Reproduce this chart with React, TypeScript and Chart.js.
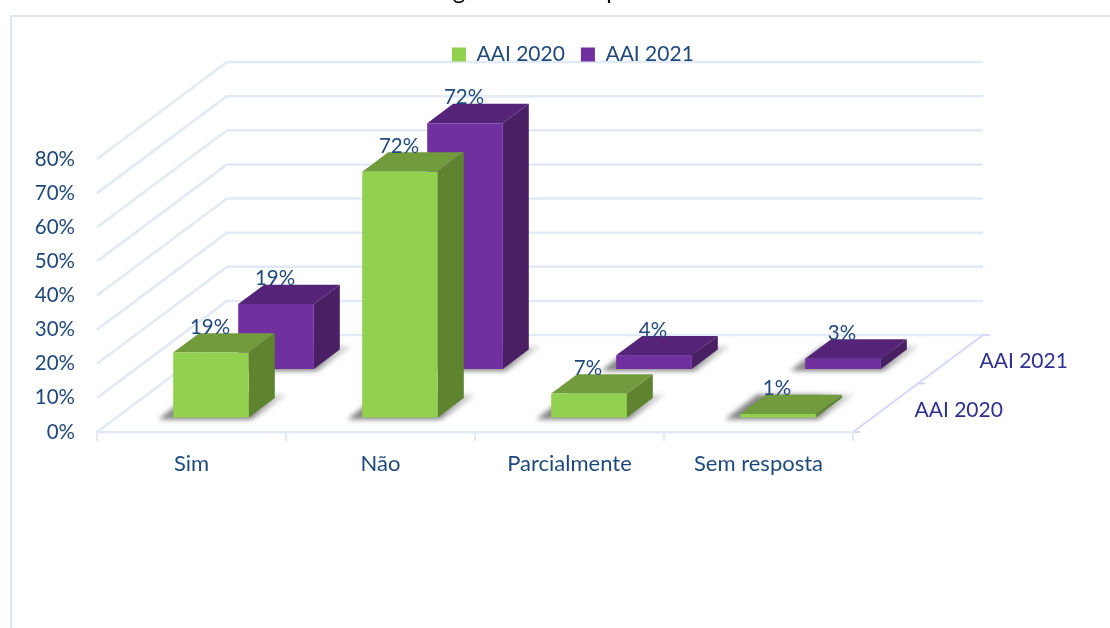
import React, { useEffect, useRef } from "react";
import { Chart, registerables } from "chart.js";

Chart.register(...registerables);

const categories = ["Sim", "Não", "Parcialmente", "Sem resposta"];
const seriesNames = ["AAI 2020", "AAI 2021"];
const values2020 = [19, 72, 7, 1];
const values2021 = [19, 72, 4, 3];
const yTicks = [0, 10, 20, 30, 40, 50, 60, 70, 80];
// The title is cropped off by the top of the picture: only these two descenders remain.
const titleFragments = ["g", "p"];

const FONT = "Lato, Carlito, sans-serif";
const TEXT = "#1F497D";
const DEPTH_TEXT = "#2E3192";
const GRID = "#E2EAF6";
const DEPTH_LINE = "#D6D8F7";
const FRAME = "#DCE6F3";

// oblique projection of the depth axis
const DEPTH_X = 130;
const DEPTH_Y = 97;
const BAR_DX = DEPTH_X * 0.2;
const BAR_DY = DEPTH_Y * 0.2;
const shift = (i: number) => ({
  x: DEPTH_X * (0.15 + i * 0.5),
  y: DEPTH_Y * (0.15 + i * 0.5),
});

const palettes = [
  { front: "#92D050", top: "#719B3C", side: "#5E8430" },
  { front: "#7030A0", top: "#552479", side: "#4A2065" },
];

const poly = (ctx: CanvasRenderingContext2D, pts: number[][], fill: any) => {
  ctx.beginPath();
  pts.forEach(([x, y], i) => (i ? ctx.lineTo(x, y) : ctx.moveTo(x, y)));
  ctx.closePath();
  ctx.fillStyle = fill;
  ctx.fill();
};

const scene = {
  id: "scene",
  beforeDraw(chart: any) {
    const { ctx, scales } = chart;
    const { x: xs, y: ys } = scales;
    const left = xs.left;
    const right = xs.right;
    ctx.save();
    ctx.fillStyle = "#fff";
    ctx.fillRect(0, 0, chart.width, chart.height);

    // outer frame of the chart object
    ctx.strokeStyle = FRAME;
    ctx.lineWidth = 2;
    ctx.beginPath();
    ctx.moveTo(11, chart.height);
    ctx.lineTo(11, 16);
    ctx.lineTo(chart.width, 16);
    ctx.stroke();

    // cropped title
    ctx.fillStyle = "#000";
    ctx.font = `24px ${FONT}`;
    ctx.textAlign = "center";
    ctx.textBaseline = "alphabetic";
    ctx.fillText(titleFragments[0], 459, -1);
    ctx.fillText(titleFragments[1], 613, -1);

    // walls
    ctx.strokeStyle = GRID;
    ctx.lineWidth = 2.5;
    ctx.lineJoin = "round";
    yTicks.forEach((v) => {
      const y = ys.getPixelForValue(v);
      ctx.beginPath();
      ctx.moveTo(left, y);
      ctx.lineTo(left + DEPTH_X, y - DEPTH_Y);
      ctx.lineTo(right + DEPTH_X, y - DEPTH_Y);
      ctx.stroke();
    });

    // depth axis on the floor
    const y0 = ys.getPixelForValue(0);
    ctx.strokeStyle = DEPTH_LINE;
    ctx.lineWidth = 2;
    ctx.beginPath();
    ctx.moveTo(right, y0);
    ctx.lineTo(right + DEPTH_X, y0 - DEPTH_Y);
    [0, 0.5, 1].forEach((f) => {
      const px = right + DEPTH_X * f;
      const py = y0 - DEPTH_Y * f;
      ctx.moveTo(px, py);
      ctx.lineTo(px + 7, py);
    });
    ctx.stroke();

    ctx.fillStyle = DEPTH_TEXT;
    ctx.font = `21px ${FONT}`;
    ctx.textAlign = "left";
    ctx.textBaseline = "middle";
    seriesNames.forEach((name, i) => {
      const f = 0.25 + i * 0.5;
      ctx.fillText(name, right + DEPTH_X * f + 29, y0 - DEPTH_Y * f + 2);
    });
    ctx.restore();
  },
  beforeDatasetDraw(chart: any, args: any) {
    const { ctx } = chart;
    const i = args.index;
    const pal = palettes[i];
    const s = shift(i);
    ctx.save();
    args.meta.data.forEach((el: any) => {
      const p = el.getProps(["x", "y", "base", "width"], true);
      const x0 = p.x - p.width / 2 + s.x;
      const x1 = p.x + p.width / 2 + s.x;
      const top = p.y - s.y;
      const base = p.base - s.y;

      // soft floor shadow
      ctx.save();
      ctx.filter = "blur(2.5px)";
      const g = ctx.createLinearGradient(x1, 0, x1 + 39, 0);
      g.addColorStop(0, "rgba(80,80,80,0.7)");
      g.addColorStop(1, "rgba(170,170,170,0.3)");
      poly(
        ctx,
        [
          [x0 - 15, base + 2],
          [x1 + 3, base + 2],
          [x1 + 39, base - 23],
          [x0 + 17, base - 23],
        ],
        g
      );
      ctx.restore();

      poly(ctx, [[x1, top], [x1 + BAR_DX, top - BAR_DY], [x1 + BAR_DX, base - BAR_DY], [x1, base]], pal.side);
      poly(ctx, [[x0, top], [x0 + BAR_DX, top - BAR_DY], [x1 + BAR_DX, top - BAR_DY], [x1, top]], pal.top);
      poly(ctx, [[x0, top], [x1, top], [x1, base], [x0, base]], pal.front);
    });
    ctx.restore();
    return false;
  },
  afterDatasetsDraw(chart: any) {
    const { ctx } = chart;
    ctx.save();
    ctx.fillStyle = TEXT;
    ctx.font = `20.5px ${FONT}`;
    ctx.textAlign = "center";
    ctx.textBaseline = "middle";
    [1, 0].forEach((i) => {
      const s = shift(i);
      chart.getDatasetMeta(i).data.forEach((el: any, k: number) => {
        const p = el.getProps(["x", "y"], true);
        const v = chart.data.datasets[i].data[k];
        ctx.fillText(`${v}%`, p.x + s.x - 1, p.y - s.y - BAR_DY - 6);
      });
    });
    ctx.restore();
  },
  afterLayout(chart: any) {
    // The legend floats over the back wall rather than taking a row of its own.
    const lg = chart.legend;
    lg.left = 436;
    lg.right = 1100;
    lg.top = 28;
    lg.bottom = 84;
  },
};

export default function App() {
  const ref = useRef<HTMLCanvasElement | null>(null);
  useEffect(() => {
    const chart = new Chart(ref.current as HTMLCanvasElement, {
      type: "bar",
      data: {
        labels: categories,
        datasets: [
          { label: seriesNames[0], data: values2020, backgroundColor: palettes[0].front, borderWidth: 0 },
          { label: seriesNames[1], data: values2021, backgroundColor: palettes[1].front, borderWidth: 0 },
        ],
      },
      plugins: [scene],
      options: {
        responsive: false,
        animation: false,
        events: [],
        barPercentage: 0.4,
        categoryPercentage: 1,
        layout: { padding: { left: 20, right: 257, top: 112, bottom: 136 } },
        plugins: {
          title: { display: false },
          tooltip: { enabled: false },
          legend: {
            display: true,
            position: "top",
            align: "start",
            labels: {
              color: TEXT,
              boxWidth: 14,
              boxHeight: 14,
              padding: 16,
              font: { family: FONT, size: 21, lineHeight: 0.952 },
            },
          },
        },
        scales: {
          x: {
            stacked: true,
            afterFit: (s: any) => {
              s.height = 60;
            },
            grid: {
              offset: true,
              drawOnChartArea: false,
              drawTicks: true,
              tickLength: 9,
              color: GRID,
              lineWidth: 2,
            },
            border: { color: GRID, width: 2.5 },
            ticks: { color: TEXT, padding: 10, maxRotation: 0, font: { family: FONT, size: 22 } },
          },
          y: {
            stacked: false,
            min: 0,
            max: 80,
            afterFit: (s: any) => {
              s.width = 77;
            },
            grid: { display: false },
            border: { display: false },
            ticks: {
              stepSize: 10,
              padding: 14,
              color: TEXT,
              font: { family: FONT, size: 20.5 },
              callback: (v: any) => `${v}%`,
            },
          },
        },
      } as any,
    });
    return () => chart.destroy();
  }, []);
  return (
    <canvas
      ref={ref}
      width={1110}
      height={628}
      style={{ position: "fixed", left: 0, top: 0, display: "block" }}
    />
  );
}
